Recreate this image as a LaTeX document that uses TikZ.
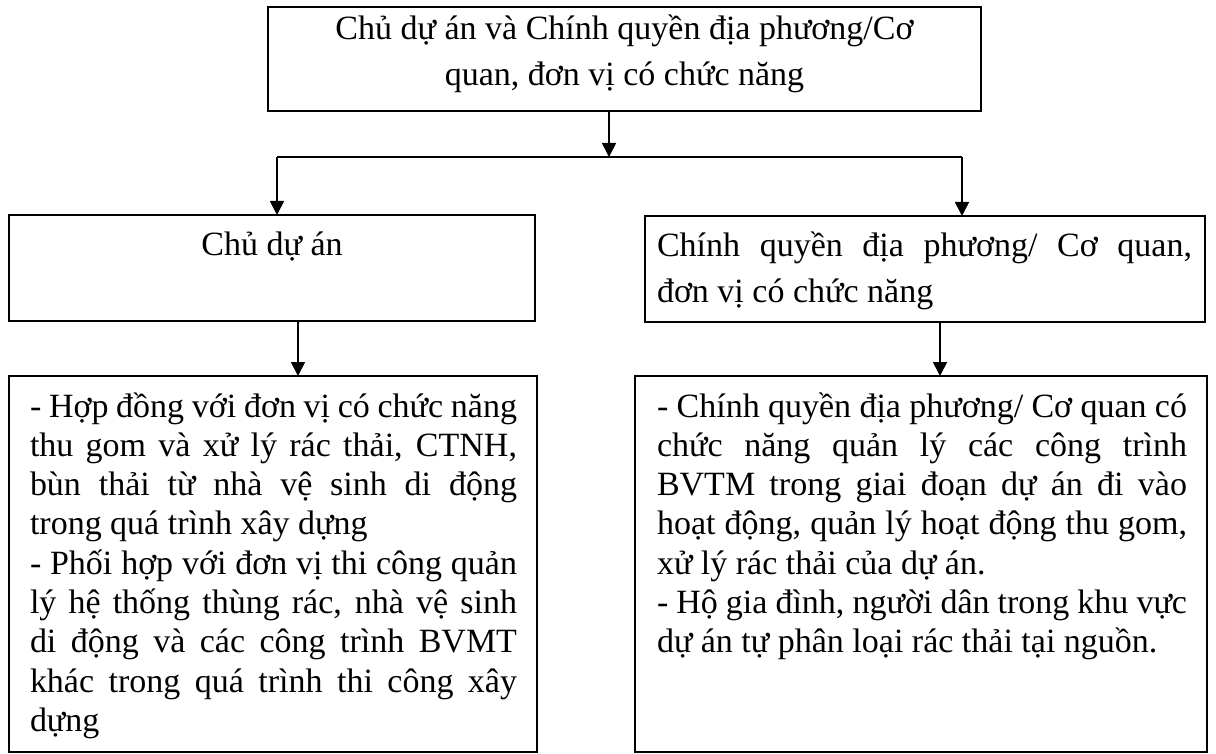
\documentclass[tikz,border=0pt]{standalone}
\usepackage{fontspec}
\setmainfont{Liberation Serif}
\usetikzlibrary{arrows.meta}
\newcommand{\jl}[1]{\makebox[\linewidth][s]{#1}\par}
\newcommand{\bodyfont}{\fontsize{34pt}{39.3pt}\selectfont\lineskiplimit=-100pt\relax}
\newcommand{\headfont}{\fontsize{34pt}{46pt}\selectfont\lineskiplimit=-100pt\relax}
\begin{document}
\begin{tikzpicture}[x=1pt,y=-1pt,
  box/.style={draw, line width=1.8pt, inner sep=0pt, outer sep=0pt},
  line/.style={line width=1.8pt},
  conn/.style={line width=1.8pt, -{Triangle[length=14pt,width=14pt]}}]
\useasboundingbox (0,0) rectangle (1216,754);

\node[box, anchor=north west] (top) at (268,7)
  {\parbox[t][104pt][t]{713pt}{\headfont\centering\rule{0pt}{33pt}Chủ dự án và Chính quyền địa phương/Cơ\\quan, đơn vị có chức năng\par}};

\node[box, anchor=north west] (ml) at (9,215)
  {\parbox[t][106pt][t]{526pt}{\headfont\centering\rule{0pt}{41pt}Chủ dự án\par}};

\node[box, anchor=north west] (mr) at (645,216)
  {\parbox[t][106pt][t]{560pt}{\hspace*{12pt}\parbox[t]{535pt}{\headfont\raggedright
    \leavevmode\rule{0pt}{41pt}\jl{Chính quyền địa phương/ Cơ quan,}
    đơn vị có chức năng\par}}};

\node[box, anchor=north west] (bl) at (9,376)
  {\parbox[t][376pt][t]{528pt}{\hspace*{21pt}\parbox[t]{487pt}{\bodyfont
    \leavevmode\rule{0pt}{41pt}\jl{- Hợp đồng với đơn vị có chức năng}
    \jl{thu gom và xử lý rác thải, CTNH,}
    \jl{bùn thải từ nhà vệ sinh di động}
    trong quá trình xây dựng\par
    \jl{- Phối hợp với đơn vị thi công quản}
    \jl{lý hệ thống thùng rác, nhà vệ sinh}
    \jl{di động và các công trình BVMT}
    \jl{khác trong quá trình thi công xây}
    dựng\par}}};

\node[box, anchor=north west] (br) at (635,376)
  {\parbox[t][376pt][t]{572pt}{\hspace*{22pt}\parbox[t]{530pt}{\bodyfont
    \leavevmode\rule{0pt}{41pt}\jl{- Chính quyền địa phương/ Cơ quan có}
    \jl{chức năng quản lý các công trình}
    \jl{BVTM trong giai đoạn dự án đi vào}
    \jl{hoạt động, quản lý hoạt động thu gom,}
    xử lý rác thải của dự án.\par
    \jl{- Hộ gia đình, người dân trong khu vực}
    dự án tự phân loại rác thải tại nguồn.\par}}};

\coordinate (hm) at (609,157);
\coordinate (hl) at (277,157);
\coordinate (hr) at (962,157);
\coordinate (al) at (298,0);
\coordinate (ar) at (940,0);

\draw[conn] (hm |- top.south) -- (hm);
\draw[line] (hl) -- (hr);
\draw[conn] (hl) -- (hl |- ml.north);
\draw[conn] (hr) -- (hr |- mr.north);
\draw[conn] (al |- ml.south) -- (al |- bl.north);
\draw[conn] (ar |- mr.south) -- (ar |- br.north);
\end{tikzpicture}
\end{document}
